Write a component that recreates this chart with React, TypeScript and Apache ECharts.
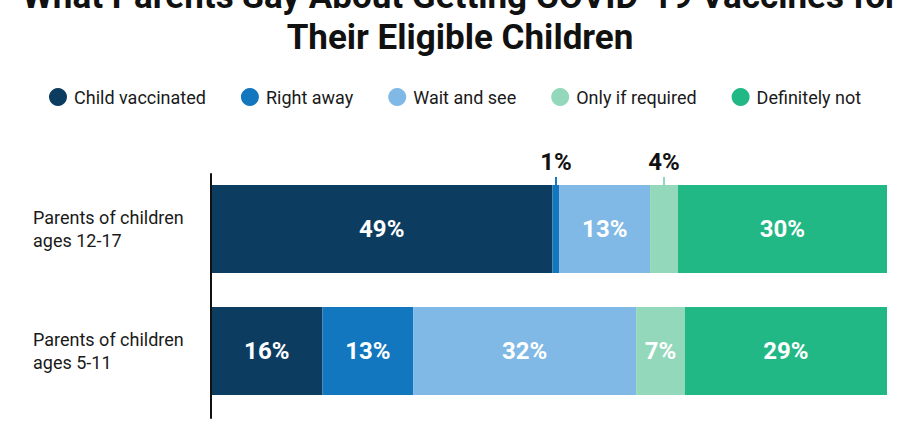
import React, { useEffect, useRef } from "react";
import * as echarts from "echarts";

const TITLE = "What Parents Say About Getting COVID-19 Vaccines for\nTheir Eligible Children";
const categories = ["Parents of children\nages 12-17", "Parents of children\nages 5-11"];
const seriesNames = ["Child vaccinated", "Right away", "Wait and see", "Only if required", "Definitely not"];
const childVaccinated = [49, 16];
const rightAway = [1, 13];
const waitAndSee = [13, 32];
const onlyIfRequired = [4, 7];
const definitelyNot = [30, 29];
const seriesValues = [childVaccinated, rightAway, waitAndSee, onlyIfRequired, definitelyNot];
const colors = ["#0d3c61", "#1277bf", "#80b9e5", "#93d8bb", "#21b886"];

const FONT = "Roboto, 'Noto Sans', sans-serif";

export default function App() {
  const ref = useRef<HTMLDivElement>(null);
  useEffect(() => {
    if (!ref.current) return;
    document.body.style.margin = "0";
    const chart = echarts.init(ref.current, null, { renderer: "svg" });
    const total = childVaccinated.map((_, i) => seriesValues.reduce((s, arr) => s + arr[i], 0));
    const maxTotal = Math.max(...total);

    const series: any[] = seriesNames.map((name, si) => ({
      name,
      type: "bar",
      stack: "all",
      xAxisIndex: 0,
      yAxisIndex: 0,
      barWidth: 88,
      itemStyle: { color: colors[si] },
      label: {
        show: true,
        position: "inside",
        color: "#ffffff",
        fontFamily: FONT,
        fontWeight: "bold",
        fontSize: 24,
        formatter: (p: any) => `${p.value}%`,
      },
      data: seriesValues[si].map((v) =>
        v < 5
          ? {
              value: v,
              label: {
                show: true,
                position: "top",
                distance: 0,
                formatter: (p: any) => `{v|${p.value}%}\n{l|}`,
                rich: {
                  v: {
                    color: "#111111",
                    fontFamily: FONT,
                    fontWeight: "bold",
                    fontSize: 24,
                    lineHeight: 22,
                    padding: [0, 0, 9, 0],
                  },
                  l: {
                    width: 2,
                    height: 8,
                    lineHeight: 8,
                    backgroundColor: colors[si],
                  },
                },
              },
            }
          : v
      ),
    }));

    series.push({
      type: "bar",
      xAxisIndex: 1,
      yAxisIndex: 1,
      data: [],
      silent: true,
    });

    chart.setOption({
      animation: false,
      title: {
        text: TITLE,
        left: "center",
        top: -29,
        textStyle: {
          fontFamily: FONT,
          fontWeight: "bold",
          fontSize: 35,
          lineHeight: 41,
          color: "#111111",
        },
      },
      legend: {
        data: seriesNames,
        left: 44,
        top: 83,
        icon: "circle",
        itemWidth: 18,
        itemHeight: 18,
        itemGap: 35,
        textStyle: {
          fontFamily: FONT,
          fontSize: 18,
          color: "#1a1a1a",
          padding: [0, 0, 0, 2],
        },
      },
      grid: [
        { left: 211, right: 33, top: 168, height: 244 },
        { left: 211, right: 33, top: 174, bottom: 7 },
      ],
      xAxis: [
        { type: "value", gridIndex: 0, min: 0, max: maxTotal, show: false },
        { type: "value", gridIndex: 1, min: 0, max: maxTotal, show: false },
      ],
      yAxis: [
        {
          type: "category",
          gridIndex: 0,
          data: categories,
          inverse: true,
          axisLine: { show: false },
          axisTick: { show: false },
          axisLabel: {
            align: "left",
            margin: 178,
            fontFamily: FONT,
            fontSize: 18,
            lineHeight: 23,
            color: "#1a1a1a",
          },
        },
        {
          type: "category",
          gridIndex: 1,
          data: [""],
          z: 10,
          axisLine: { show: true, lineStyle: { color: "#111111", width: 2 } },
          axisTick: { show: false },
          axisLabel: { show: false },
        },
      ],
      series,
    });
    return () => chart.dispose();
  }, []);
  return <div ref={ref} style={{ width: 920, height: 425 }} />;
}
